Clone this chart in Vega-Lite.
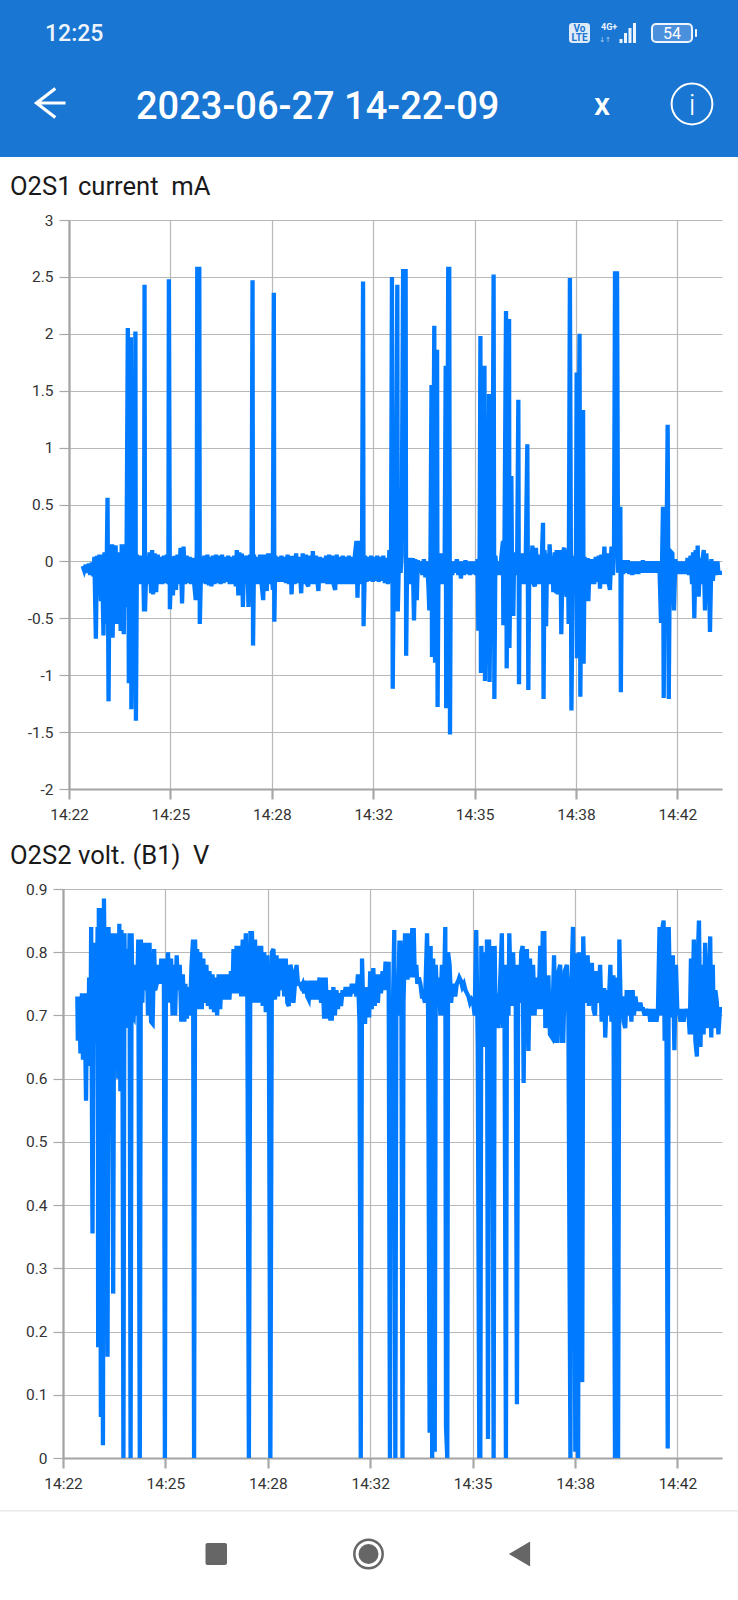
{
"$schema":"https://vega.github.io/schema/vega-lite/v6.json",
"padding":0,
"spacing":18,
"background":"white",
"config":{
"font":"Roboto",
"view":{"stroke":null},
"axis":{"labelFont":"Roboto","labelFontSize":15.5,"labelColor":"#333333","labelOverlap":false,"labelFlush":false,"labelBound":false,"tickSize":10,"tickColor":"#a8a8a8","domainColor":"#a3a3a3","domainWidth":2.2,"gridColor":"#b8b8b8","gridWidth":1.2,"title":null,"zindex":1},
"axisX":{"tickWidth":2.2,"labelPadding":8,"labelExpr":"timeFormat(datetime(2023,5,27,14,22,9+datum.value),'%H:%M')"},
"axisY":{"tickWidth":1.2,"labelPadding":6,"labelExpr":"''+datum.value"},
"title":{"font":"Roboto","fontSize":25.6,"fontWeight":"normal","color":"#1a1a1a","anchor":"start","frame":"bounds","dx":10}
},
"datasets":{
"o2s1":[{"s":27,"v":-0.04},{"s":30,"v":-0.08},{"s":33,"v":-0.03},{"s":36,"v":-0.1},{"s":39,"v":-0.02},{"s":42,"v":-0.12},{"s":45,"v":-0.01},{"s":48,"v":-0.13},{"s":50,"v":0.04},{"s":53,"v":-0.68},{"s":55,"v":0.05},{"s":58,"v":-0.2},{"s":60,"v":0.06},{"s":63,"v":-0.35},{"s":65,"v":0.06},{"s":68,"v":-0.65},{"s":70,"v":0.08},{"s":73,"v":-0.55},{"s":76,"v":0.56},{"s":78,"v":-1.23},{"s":80,"v":0.1},{"s":83,"v":-0.6},{"s":85,"v":0.15},{"s":86,"v":-0.67},{"s":89,"v":0.06},{"s":92,"v":0.14},{"s":94,"v":-0.55},{"s":97,"v":0.08},{"s":100,"v":-0.3},{"s":102,"v":-0.61},{"s":104,"v":0.15},{"s":106,"v":-0.3},{"s":108,"v":-0.64},{"s":110,"v":0.15},{"s":113,"v":-0.4},{"s":116,"v":2.05},{"s":118,"v":-1.07},{"s":120,"v":0.1},{"s":122,"v":1.97},{"s":123,"v":-1.3},{"s":126,"v":-0.1},{"s":129,"v":0.05},{"s":131,"v":2.02},{"s":132,"v":-1.4},{"s":134,"v":0.06},{"s":137,"v":-0.2},{"s":140,"v":0.05},{"s":143,"v":-0.2},{"s":146,"v":0.03},{"s":148,"v":-0.44},{"s":149,"v":2.43},{"s":150,"v":-0.44},{"s":153,"v":0.05},{"s":156,"v":-0.2},{"s":159,"v":0.08},{"s":162,"v":-0.28},{"s":164,"v":0.1},{"s":166,"v":-0.29},{"s":169,"v":0.07},{"s":172,"v":-0.27},{"s":175,"v":0.06},{"s":178,"v":-0.2},{"s":181,"v":0.04},{"s":184,"v":-0.2},{"s":187,"v":0.05},{"s":190,"v":-0.19},{"s":193,"v":0.06},{"s":196,"v":-0.2},{"s":197,"v":2.48},{"s":199,"v":-0.42},{"s":202,"v":0.04},{"s":205,"v":-0.3},{"s":208,"v":0.05},{"s":211,"v":-0.25},{"s":214,"v":0.06},{"s":217,"v":-0.2},{"s":220,"v":0.12},{"s":223,"v":-0.37},{"s":226,"v":0.13},{"s":229,"v":-0.2},{"s":232,"v":0.05},{"s":235,"v":-0.19},{"s":238,"v":0.04},{"s":241,"v":-0.2},{"s":244,"v":0.03},{"s":247,"v":-0.2},{"s":250,"v":-0.34},{"s":252,"v":0.1},{"s":253,"v":2.57},{"s":257,"v":2.57},{"s":258,"v":-0.55},{"s":261,"v":0.04},{"s":264,"v":-0.19},{"s":267,"v":0.05},{"s":270,"v":-0.2},{"s":273,"v":0.06},{"s":276,"v":-0.21},{"s":279,"v":0.04},{"s":281,"v":-0.22},{"s":284,"v":0.05},{"s":287,"v":-0.2},{"s":290,"v":0.06},{"s":293,"v":-0.19},{"s":296,"v":0.05},{"s":299,"v":-0.2},{"s":302,"v":0.06},{"s":305,"v":-0.19},{"s":308,"v":0.04},{"s":311,"v":-0.18},{"s":314,"v":0.05},{"s":317,"v":-0.2},{"s":320,"v":0.04},{"s":323,"v":-0.2},{"s":326,"v":0.05},{"s":329,"v":-0.22},{"s":331,"v":0.1},{"s":334,"v":-0.3},{"s":336,"v":0.08},{"s":339,"v":-0.22},{"s":341,"v":0.07},{"s":343,"v":-0.4},{"s":346,"v":0.05},{"s":349,"v":-0.2},{"s":352,"v":0.05},{"s":354,"v":-0.4},{"s":357,"v":0.06},{"s":360,"v":-0.2},{"s":362,"v":2.47},{"s":363,"v":-0.74},{"s":365,"v":0.06},{"s":368,"v":-0.2},{"s":371,"v":0.04},{"s":374,"v":-0.2},{"s":377,"v":0.06},{"s":380,"v":-0.2},{"s":383,"v":-0.34},{"s":385,"v":0.06},{"s":388,"v":-0.2},{"s":390,"v":-0.26},{"s":393,"v":0.07},{"s":396,"v":-0.2},{"s":399,"v":0.07},{"s":402,"v":-0.25},{"s":404,"v":2.36},{"s":405,"v":-0.53},{"s":407,"v":0.05},{"s":410,"v":-0.18},{"s":413,"v":0.04},{"s":416,"v":-0.18},{"s":419,"v":0.05},{"s":422,"v":-0.18},{"s":425,"v":0.04},{"s":428,"v":-0.19},{"s":431,"v":0.06},{"s":434,"v":-0.2},{"s":437,"v":0.05},{"s":439,"v":-0.29},{"s":442,"v":0.05},{"s":445,"v":-0.2},{"s":448,"v":0.07},{"s":451,"v":-0.19},{"s":454,"v":0.04},{"s":458,"v":-0.28},{"s":461,"v":0.07},{"s":464,"v":-0.2},{"s":467,"v":0.06},{"s":470,"v":-0.2},{"s":472,"v":-0.22},{"s":475,"v":0.05},{"s":478,"v":-0.2},{"s":481,"v":0.09},{"s":484,"v":-0.2},{"s":487,"v":0.05},{"s":490,"v":-0.18},{"s":492,"v":-0.26},{"s":495,"v":0.04},{"s":498,"v":-0.19},{"s":501,"v":0.03},{"s":504,"v":-0.19},{"s":507,"v":0.05},{"s":510,"v":-0.2},{"s":513,"v":0.06},{"s":516,"v":-0.2},{"s":519,"v":0.05},{"s":522,"v":-0.2},{"s":525,"v":-0.25},{"s":528,"v":0.06},{"s":531,"v":-0.2},{"s":534,"v":0.04},{"s":537,"v":-0.2},{"s":540,"v":0.05},{"s":543,"v":-0.2},{"s":546,"v":0.04},{"s":549,"v":-0.2},{"s":552,"v":0.05},{"s":555,"v":-0.2},{"s":558,"v":0.04},{"s":561,"v":-0.2},{"s":564,"v":0.06},{"s":567,"v":0.18},{"s":569,"v":-0.32},{"s":572,"v":0.18},{"s":575,"v":-0.2},{"s":578,"v":0.1},{"s":580,"v":2.46},{"s":581,"v":-0.57},{"s":584,"v":0.05},{"s":587,"v":-0.18},{"s":590,"v":0.04},{"s":593,"v":-0.17},{"s":596,"v":0.05},{"s":599,"v":-0.18},{"s":602,"v":0.04},{"s":605,"v":-0.17},{"s":608,"v":0.05},{"s":611,"v":-0.18},{"s":614,"v":0.04},{"s":617,"v":-0.17},{"s":620,"v":0.05},{"s":623,"v":-0.19},{"s":626,"v":0.03},{"s":629,"v":-0.2},{"s":632,"v":0.1},{"s":635,"v":-0.19},{"s":637,"v":2.5},{"s":638.5,"v":-1.12},{"s":641,"v":0.08},{"s":644,"v":-0.2},{"s":647.6,"v":2.43},{"s":648.5,"v":-0.44},{"s":651,"v":0.06},{"s":654,"v":-0.1},{"s":656,"v":0.05},{"s":659,"v":2.55},{"s":664,"v":2.55},{"s":665,"v":-0.83},{"s":667,"v":0.03},{"s":670,"v":-0.2},{"s":673,"v":0.03},{"s":676,"v":-0.2},{"s":678,"v":0.03},{"s":680.5,"v":-0.52},{"s":683,"v":0.02},{"s":686,"v":-0.34},{"s":688,"v":0.01},{"s":691,"v":-0.1},{"s":694,"v":0},{"s":697,"v":-0.12},{"s":700,"v":0.02},{"s":703,"v":-0.14},{"s":706,"v":0},{"s":709,"v":-0.22},{"s":710.7,"v":-0.43},{"s":713,"v":0.05},{"s":715,"v":1.55},{"s":716,"v":-0.84},{"s":718,"v":0.08},{"s":720.5,"v":2.07},{"s":722,"v":-0.89},{"s":724,"v":0.05},{"s":726,"v":1.86},{"s":727,"v":-1.28},{"s":729,"v":0.05},{"s":732,"v":-0.2},{"s":735,"v":0.07},{"s":738,"v":-0.2},{"s":741,"v":0.05},{"s":743,"v":1.72},{"s":744,"v":-1.29},{"s":746,"v":0.02},{"s":748,"v":2.57},{"s":750,"v":2.57},{"s":751.5,"v":-1.52},{"s":753,"v":0},{"s":756,"v":-0.12},{"s":759,"v":0},{"s":762,"v":-0.1},{"s":765,"v":0.02},{"s":768,"v":-0.12},{"s":771,"v":0},{"s":773,"v":-0.15},{"s":776,"v":0},{"s":779,"v":-0.12},{"s":782,"v":0.01},{"s":785,"v":-0.11},{"s":788,"v":0},{"s":791,"v":-0.12},{"s":794,"v":0},{"s":797,"v":-0.11},{"s":800,"v":0},{"s":803,"v":-0.12},{"s":806,"v":0.02},{"s":807.4,"v":-0.61},{"s":810,"v":0.1},{"s":811.5,"v":1.98},{"s":812.5,"v":-0.98},{"s":815,"v":0.05},{"s":818,"v":-0.3},{"s":819.5,"v":1.72},{"s":820.5,"v":-1.05},{"s":823,"v":0.08},{"s":826,"v":-0.3},{"s":828.5,"v":1.47},{"s":829.5,"v":-1.06},{"s":832,"v":0.05},{"s":835,"v":-0.2},{"s":837.5,"v":2.52},{"s":839,"v":-1.21},{"s":841,"v":0.05},{"s":844,"v":-0.12},{"s":847,"v":0},{"s":850,"v":-0.12},{"s":853,"v":0.05},{"s":856,"v":0.18},{"s":856.7,"v":-0.56},{"s":859,"v":0.2},{"s":862,"v":2.2},{"s":863.3,"v":-0.94},{"s":865,"v":0.05},{"s":868,"v":2.13},{"s":868.7,"v":-0.76},{"s":871,"v":0.1},{"s":872.5,"v":0.75},{"s":874,"v":-0.2},{"s":876.4,"v":-0.48},{"s":878,"v":0.08},{"s":881,"v":-0.12},{"s":884,"v":0.05},{"s":886.3,"v":1.42},{"s":887.6,"v":-1.08},{"s":889,"v":0.05},{"s":892,"v":-0.2},{"s":895,"v":0.07},{"s":898,"v":-0.2},{"s":901,"v":0.06},{"s":904,"v":1.03},{"s":906,"v":-1.13},{"s":908,"v":0.07},{"s":911,"v":-0.2},{"s":914,"v":0.14},{"s":917,"v":-0.2},{"s":919,"v":-0.22},{"s":921,"v":0.12},{"s":924,"v":-0.2},{"s":927,"v":0.06},{"s":930,"v":-0.2},{"s":933,"v":0.08},{"s":935,"v":0.34},{"s":936,"v":-1.21},{"s":938,"v":0.1},{"s":941,"v":-0.57},{"s":943,"v":0.07},{"s":946,"v":-0.2},{"s":948,"v":0.15},{"s":951,"v":-0.2},{"s":953,"v":0.05},{"s":955.3,"v":-0.27},{"s":958,"v":0.08},{"s":961,"v":-0.28},{"s":962,"v":0.1},{"s":964,"v":-0.29},{"s":967,"v":0.1},{"s":970,"v":-0.2},{"s":971,"v":-0.64},{"s":974,"v":0.08},{"s":977,"v":0.12},{"s":979,"v":-0.2},{"s":981.6,"v":-0.31},{"s":984,"v":0.1},{"s":985.5,"v":-0.55},{"s":988,"v":2.49},{"s":991,"v":-1.31},{"s":994,"v":0.05},{"s":997,"v":-0.3},{"s":1000,"v":0.1},{"s":1001.3,"v":1.66},{"s":1002,"v":-0.85},{"s":1004,"v":0.1},{"s":1007,"v":2},{"s":1008.6,"v":-1.19},{"s":1011,"v":0.1},{"s":1014,"v":1.33},{"s":1015,"v":-0.9},{"s":1017,"v":0.04},{"s":1020,"v":-0.2},{"s":1023,"v":0.03},{"s":1024.4,"v":-0.35},{"s":1027,"v":0.02},{"s":1030,"v":-0.2},{"s":1033,"v":0.02},{"s":1036,"v":-0.2},{"s":1039,"v":0.04},{"s":1042,"v":-0.18},{"s":1045,"v":0.05},{"s":1047.4,"v":-0.24},{"s":1050,"v":0.06},{"s":1053,"v":-0.2},{"s":1056,"v":0.13},{"s":1059,"v":-0.2},{"s":1062,"v":0.07},{"s":1065,"v":-0.2},{"s":1067,"v":-0.25},{"s":1070,"v":0.13},{"s":1073,"v":-0.12},{"s":1075,"v":0.1},{"s":1077,"v":2.53},{"s":1081,"v":2.53},{"s":1083,"v":-0.1},{"s":1085,"v":0.1},{"s":1087.5,"v":0.48},{"s":1088.5,"v":-1.15},{"s":1090,"v":0},{"s":1093,"v":-0.11},{"s":1096,"v":0.01},{"s":1099,"v":-0.1},{"s":1102,"v":0.01},{"s":1105,"v":-0.11},{"s":1108,"v":0},{"s":1111,"v":-0.12},{"s":1114,"v":0},{"s":1117,"v":-0.11},{"s":1120,"v":0},{"s":1123,"v":-0.11},{"s":1126,"v":0},{"s":1129,"v":-0.1},{"s":1132,"v":0.01},{"s":1135,"v":-0.1},{"s":1138,"v":0},{"s":1141,"v":-0.1},{"s":1144,"v":0},{"s":1147,"v":-0.1},{"s":1150,"v":0},{"s":1153,"v":-0.1},{"s":1156,"v":0},{"s":1159,"v":-0.1},{"s":1162,"v":0},{"s":1165,"v":-0.1},{"s":1167.7,"v":-0.54},{"s":1170,"v":0.05},{"s":1171.6,"v":0.48},{"s":1173,"v":-1.2},{"s":1175,"v":0.05},{"s":1178,"v":-0.2},{"s":1180.8,"v":1.2},{"s":1183,"v":-1.21},{"s":1185,"v":0.02},{"s":1188,"v":0.08},{"s":1190,"v":0.07},{"s":1193.3,"v":-0.43},{"s":1196,"v":0.02},{"s":1199,"v":-0.11},{"s":1202,"v":0},{"s":1205,"v":-0.11},{"s":1208,"v":0},{"s":1211,"v":-0.11},{"s":1214,"v":0},{"s":1217,"v":-0.11},{"s":1220,"v":0.03},{"s":1223,"v":-0.12},{"s":1226,"v":0.05},{"s":1229,"v":-0.2},{"s":1231,"v":0.08},{"s":1233.4,"v":-0.5},{"s":1236,"v":0.1},{"s":1239,"v":-0.2},{"s":1240,"v":0.14},{"s":1242,"v":-0.31},{"s":1245,"v":0.03},{"s":1248,"v":-0.2},{"s":1250,"v":0.03},{"s":1252,"v":0.1},{"s":1254.4,"v":-0.43},{"s":1257,"v":0.07},{"s":1260,"v":-0.17},{"s":1262,"v":0},{"s":1264.3,"v":-0.62},{"s":1267,"v":0.02},{"s":1270,"v":-0.17},{"s":1273,"v":0},{"s":1276,"v":-0.12},{"s":1279,"v":0},{"s":1281,"v":-0.1},{"s":1283,"v":-0.1},{"s":1288,"v":-0.1}],
"o2s2":[{"s":28,"v":0.73},{"s":29,"v":0.66},{"s":32,"v":0.73},{"s":34,"v":0.64},{"s":37,"v":0.735},{"s":39,"v":0.63},{"s":42,"v":0.735},{"s":45,"v":0.565},{"s":47,"v":0.735},{"s":49,"v":0.62},{"s":51,"v":0.76},{"s":54,"v":0.7},{"s":55,"v":0.84},{"s":57.6,"v":0.355},{"s":60,"v":0.76},{"s":62,"v":0.7},{"s":63,"v":0.815},{"s":65,"v":0.655},{"s":67.6,"v":0.84},{"s":68.7,"v":0.175},{"s":70,"v":0.87},{"s":72,"v":0.72},{"s":74,"v":0.065},{"s":76,"v":0.87},{"s":78,"v":0.02},{"s":80,"v":0.885},{"s":82,"v":0.7},{"s":84,"v":0.84},{"s":87,"v":0.16},{"s":89,"v":0.84},{"s":91,"v":0.655},{"s":94,"v":0.83},{"s":96,"v":0.6},{"s":98,"v":0.26},{"s":100,"v":0.83},{"s":102,"v":0.65},{"s":104,"v":0.83},{"s":106,"v":0.7},{"s":108,"v":0.6},{"s":110,"v":0.845},{"s":112,"v":0.58},{"s":114,"v":0.835},{"s":116,"v":0.7},{"s":118,"v":0},{"s":120,"v":0.83},{"s":122,"v":0.68},{"s":124,"v":0.805},{"s":128,"v":0.7},{"s":130,"v":0.83},{"s":132,"v":0},{"s":134,"v":0.83},{"s":136,"v":0.7},{"s":138,"v":0.697},{"s":141,"v":0.78},{"s":144,"v":0.7},{"s":147,"v":0.82},{"s":150,"v":0},{"s":152,"v":0.82},{"s":155,"v":0.72},{"s":157.4,"v":0.815},{"s":160,"v":0.74},{"s":163,"v":0.815},{"s":166,"v":0.7},{"s":169,"v":0.815},{"s":172,"v":0.69},{"s":175,"v":0.687},{"s":178,"v":0.805},{"s":180,"v":0.74},{"s":183,"v":0.75},{"s":186,"v":0.78},{"s":189,"v":0.75},{"s":192,"v":0.79},{"s":195,"v":0.75},{"s":197,"v":0.79},{"s":199,"v":0},{"s":201,"v":0.79},{"s":203,"v":0.74},{"s":205,"v":0.8},{"s":208,"v":0.72},{"s":211,"v":0.79},{"s":214,"v":0.7},{"s":216,"v":0.78},{"s":219,"v":0.7},{"s":222,"v":0.795},{"s":225,"v":0.74},{"s":228,"v":0.78},{"s":231,"v":0.69},{"s":234,"v":0.765},{"s":237,"v":0.69},{"s":239,"v":0.75},{"s":242,"v":0.695},{"s":245,"v":0.745},{"s":248,"v":0.7},{"s":251,"v":0.78},{"s":254,"v":0.82},{"s":256,"v":0},{"s":258,"v":0.82},{"s":260,"v":0.71},{"s":262,"v":0.805},{"s":265,"v":0.71},{"s":268,"v":0.8},{"s":271,"v":0.71},{"s":274,"v":0.79},{"s":277,"v":0.72},{"s":280,"v":0.78},{"s":283,"v":0.715},{"s":286,"v":0.77},{"s":289,"v":0.71},{"s":292,"v":0.765},{"s":295,"v":0.705},{"s":298,"v":0.76},{"s":301,"v":0.7},{"s":304,"v":0.765},{"s":307,"v":0.71},{"s":310,"v":0.765},{"s":313,"v":0.725},{"s":316,"v":0.765},{"s":319,"v":0.725},{"s":322,"v":0.765},{"s":325,"v":0.725},{"s":328,"v":0.77},{"s":331,"v":0.735},{"s":333,"v":0.805},{"s":336,"v":0.735},{"s":339,"v":0.81},{"s":342,"v":0.735},{"s":345,"v":0.81},{"s":348,"v":0.73},{"s":351,"v":0.82},{"s":354,"v":0.73},{"s":357,"v":0.83},{"s":360,"v":0.73},{"s":363,"v":0},{"s":366,"v":0.83},{"s":369,"v":0.83},{"s":372,"v":0.72},{"s":375,"v":0.82},{"s":378,"v":0.72},{"s":381,"v":0.81},{"s":384,"v":0.72},{"s":387,"v":0.81},{"s":390,"v":0.715},{"s":393,"v":0.8},{"s":396,"v":0.705},{"s":399,"v":0.795},{"s":402,"v":0.71},{"s":405,"v":0},{"s":408,"v":0.8},{"s":411,"v":0.805},{"s":414,"v":0.725},{"s":417,"v":0.795},{"s":420,"v":0.73},{"s":423,"v":0.79},{"s":426,"v":0.74},{"s":429,"v":0.79},{"s":432,"v":0.73},{"s":435,"v":0.79},{"s":438,"v":0.72},{"s":441,"v":0.715},{"s":444,"v":0.78},{"s":447,"v":0.77},{"s":450,"v":0.72},{"s":453,"v":0.75},{"s":456,"v":0.78},{"s":459,"v":0.75},{"s":462,"v":0.75},{"s":465,"v":0.745},{"s":468,"v":0.75},{"s":471,"v":0.735},{"s":474,"v":0.755},{"s":477,"v":0.73},{"s":480,"v":0.725},{"s":483,"v":0.755},{"s":486,"v":0.725},{"s":489,"v":0.755},{"s":492,"v":0.725},{"s":495,"v":0.755},{"s":498,"v":0.725},{"s":501,"v":0.76},{"s":504,"v":0.72},{"s":507,"v":0.76},{"s":510,"v":0.695},{"s":513,"v":0.76},{"s":516,"v":0.695},{"s":519,"v":0.74},{"s":522,"v":0.695},{"s":525,"v":0.695},{"s":528,"v":0.745},{"s":531,"v":0.7},{"s":534,"v":0.74},{"s":537,"v":0.71},{"s":540,"v":0.735},{"s":543,"v":0.715},{"s":546,"v":0.74},{"s":549,"v":0.73},{"s":552,"v":0.745},{"s":555,"v":0.73},{"s":558,"v":0.745},{"s":561,"v":0.73},{"s":564,"v":0.75},{"s":567,"v":0.735},{"s":570,"v":0.75},{"s":573,"v":0.73},{"s":576,"v":0.765},{"s":579,"v":0.69},{"s":581.5,"v":0},{"s":584,"v":0.79},{"s":587,"v":0.69},{"s":590,"v":0.69},{"s":592,"v":0.745},{"s":595,"v":0.7},{"s":598,"v":0.7},{"s":600,"v":0.77},{"s":603,"v":0.71},{"s":606,"v":0.775},{"s":609,"v":0.715},{"s":612,"v":0.765},{"s":615,"v":0.72},{"s":618,"v":0.765},{"s":621,"v":0.735},{"s":624,"v":0.77},{"s":627,"v":0.74},{"s":630,"v":0.785},{"s":633,"v":0.74},{"s":636,"v":0.785},{"s":638.5,"v":0},{"s":641,"v":0.7},{"s":644,"v":0.7},{"s":647,"v":0.835},{"s":649,"v":0},{"s":651,"v":0.72},{"s":654,"v":0.7},{"s":657,"v":0.815},{"s":659,"v":0.815},{"s":661,"v":0.7},{"s":663,"v":0},{"s":665,"v":0.72},{"s":668,"v":0.83},{"s":670,"v":0.76},{"s":673,"v":0.76},{"s":676,"v":0.83},{"s":679,"v":0.76},{"s":682,"v":0.835},{"s":685,"v":0.835},{"s":687,"v":0.76},{"s":690,"v":0.78},{"s":692,"v":0.75},{"s":695,"v":0.76},{"s":698,"v":0.75},{"s":701,"v":0.73},{"s":704,"v":0.73},{"s":707,"v":0.72},{"s":711,"v":0.83},{"s":713,"v":0.71},{"s":716,"v":0.04},{"s":718,"v":0.81},{"s":721,"v":0},{"s":723,"v":0.79},{"s":726,"v":0.01},{"s":728,"v":0.78},{"s":731,"v":0.72},{"s":734,"v":0.76},{"s":737,"v":0.7},{"s":740,"v":0.78},{"s":743,"v":0.7},{"s":746.6,"v":0.84},{"s":748,"v":0.05},{"s":750.5,"v":0},{"s":752,"v":0.8},{"s":755,"v":0.78},{"s":758,"v":0.72},{"s":760,"v":0.74},{"s":763,"v":0.75},{"s":766,"v":0.73},{"s":769,"v":0.75},{"s":772,"v":0.755},{"s":774,"v":0.76},{"s":777,"v":0.755},{"s":780,"v":0.745},{"s":783,"v":0.75},{"s":786,"v":0.74},{"s":789,"v":0.735},{"s":792,"v":0.73},{"s":795,"v":0.72},{"s":798,"v":0.725},{"s":801,"v":0.72},{"s":804,"v":0.7},{"s":807,"v":0.835},{"s":810,"v":0.65},{"s":813,"v":0},{"s":815,"v":0},{"s":817,"v":0.81},{"s":820,"v":0.65},{"s":823,"v":0.8},{"s":826,"v":0.65},{"s":828,"v":0.82},{"s":830,"v":0.03},{"s":832,"v":0.82},{"s":835,"v":0.65},{"s":838,"v":0.81},{"s":841,"v":0},{"s":843,"v":0.81},{"s":845,"v":0.68},{"s":847.6,"v":0.735},{"s":850,"v":0.68},{"s":853,"v":0.735},{"s":857,"v":0.83},{"s":859,"v":0.68},{"s":862,"v":0.78},{"s":865,"v":0},{"s":867,"v":0.78},{"s":870,"v":0.7},{"s":871.6,"v":0.83},{"s":874,"v":0.75},{"s":877,"v":0.715},{"s":879,"v":0.8},{"s":882,"v":0.72},{"s":884,"v":0.78},{"s":886.5,"v":0.085},{"s":889,"v":0.78},{"s":892,"v":0.72},{"s":895,"v":0.8},{"s":897.7,"v":0.81},{"s":899.6,"v":0.593},{"s":902,"v":0.8},{"s":904,"v":0.7},{"s":906,"v":0.805},{"s":909,"v":0.644},{"s":912,"v":0.79},{"s":915,"v":0.7},{"s":918,"v":0.78},{"s":921,"v":0.7},{"s":924,"v":0.76},{"s":927,"v":0.71},{"s":930,"v":0.75},{"s":932,"v":0.81},{"s":934,"v":0.71},{"s":937,"v":0.83},{"s":940,"v":0.83},{"s":942,"v":0.68},{"s":945,"v":0.76},{"s":948,"v":0.76},{"s":951,"v":0.67},{"s":955,"v":0.665},{"s":959,"v":0.795},{"s":962,"v":0.66},{"s":965,"v":0.66},{"s":968,"v":0.77},{"s":971,"v":0.78},{"s":974,"v":0.66},{"s":977,"v":0.66},{"s":980,"v":0.77},{"s":984,"v":0.78},{"s":987,"v":0.7},{"s":991,"v":0},{"s":993,"v":0.75},{"s":996,"v":0.84},{"s":998,"v":0.7},{"s":1000.5,"v":0.01},{"s":1003,"v":0.795},{"s":1005,"v":0.795},{"s":1006,"v":0},{"s":1008,"v":0.8},{"s":1011,"v":0.7},{"s":1014,"v":0.12},{"s":1016,"v":0.825},{"s":1019,"v":0.72},{"s":1022,"v":0.75},{"s":1024.6,"v":0.795},{"s":1027,"v":0.715},{"s":1030,"v":0.78},{"s":1033,"v":0.78},{"s":1036,"v":0.71},{"s":1039,"v":0.7},{"s":1042,"v":0.77},{"s":1045,"v":0.72},{"s":1049,"v":0.78},{"s":1052,"v":0.69},{"s":1055,"v":0.74},{"s":1057,"v":0.74},{"s":1059,"v":0.665},{"s":1062,"v":0.74},{"s":1065,"v":0.7},{"s":1069,"v":0.78},{"s":1071,"v":0.69},{"s":1073,"v":0.76},{"s":1075,"v":0.76},{"s":1078,"v":0},{"s":1081,"v":0.76},{"s":1084,"v":0},{"s":1086.5,"v":0.82},{"s":1089,"v":0.72},{"s":1092,"v":0.73},{"s":1095,"v":0.69},{"s":1098,"v":0.68},{"s":1101,"v":0.74},{"s":1104,"v":0.7},{"s":1107,"v":0.74},{"s":1110,"v":0.69},{"s":1112.5,"v":0.74},{"s":1115,"v":0.7},{"s":1118,"v":0.73},{"s":1121,"v":0.71},{"s":1124,"v":0.71},{"s":1127.5,"v":0.72},{"s":1130,"v":0.71},{"s":1133,"v":0.71},{"s":1136,"v":0.7},{"s":1138,"v":0.71},{"s":1141,"v":0.7},{"s":1144,"v":0.71},{"s":1147,"v":0.69},{"s":1150,"v":0.71},{"s":1153,"v":0.69},{"s":1156,"v":0.71},{"s":1159,"v":0.69},{"s":1162,"v":0.71},{"s":1165,"v":0.84},{"s":1168,"v":0.7},{"s":1171,"v":0.84},{"s":1173,"v":0.85},{"s":1175,"v":0.66},{"s":1178,"v":0.84},{"s":1181,"v":0.015},{"s":1183,"v":0.84},{"s":1186,"v":0.7},{"s":1189,"v":0.7},{"s":1191,"v":0.795},{"s":1194,"v":0.645},{"s":1197,"v":0.78},{"s":1200,"v":0.7},{"s":1203,"v":0.71},{"s":1206,"v":0.69},{"s":1209,"v":0.71},{"s":1212,"v":0.69},{"s":1215,"v":0.71},{"s":1218,"v":0.7},{"s":1221,"v":0.71},{"s":1224,"v":0.67},{"s":1226.4,"v":0.79},{"s":1229,"v":0.67},{"s":1232,"v":0.82},{"s":1235,"v":0.66},{"s":1238,"v":0.635},{"s":1240,"v":0.8},{"s":1242,"v":0.85},{"s":1245,"v":0.65},{"s":1248,"v":0.78},{"s":1251,"v":0.67},{"s":1254,"v":0.815},{"s":1257,"v":0.68},{"s":1260,"v":0.7},{"s":1264,"v":0.825},{"s":1266,"v":0.665},{"s":1269,"v":0.78},{"s":1271,"v":0.68},{"s":1274,"v":0.74},{"s":1277,"v":0.72},{"s":1280,"v":0.67},{"s":1283,"v":0.71},{"s":1287,"v":0.71}]
},
"vconcat":[
{"width":675,"height":157,
"layer":[
{"data":{"values":[{"icon":"appbar"}]},"mark":{"type":"rect","fill":"#1976D2"},"encoding":{"x":{"value":-63},"x2":{"value":675},"y":{"value":0},"y2":{"value":157}}},
{"data":{"values":[{"label":"12:25"}]},"mark":{"type":"text","font":"Roboto","fontSize":23,"fontWeight":500,"color":"#eef4fb","align":"left","baseline":"alphabetic"},"encoding":{"x":{"value":-18},"y":{"value":41},"text":{"field":"label"}}},
{"data":{"values":[{"label":"2023-06-27 14-22-09"}]},"mark":{"type":"text","font":"Roboto","fontSize":38,"fontWeight":500,"color":"white","align":"left","baseline":"alphabetic"},"encoding":{"x":{"value":73},"y":{"value":119},"text":{"field":"label"}}},
{"data":{"values":[{"label":"x"}]},"mark":{"type":"text","font":"Roboto","fontSize":32,"fontWeight":500,"color":"white","align":"center","baseline":"alphabetic"},"encoding":{"x":{"value":539},"y":{"value":115},"text":{"field":"label"}}},
{"data":{"values":[{"label":"i"}]},"mark":{"type":"text","font":"Roboto","fontSize":30,"fontWeight":300,"color":"white","align":"center","baseline":"alphabetic"},"encoding":{"x":{"value":629},"y":{"value":115},"text":{"field":"label"}}},
{"data":{"values":[{"icon":"info"}]},"mark":{"type":"point","shape":"circle","size":1662,"stroke":"white","strokeWidth":2,"filled":false,"opacity":1},"encoding":{"x":{"value":629},"y":{"value":104}}},
{"data":{"values":[{"icon":"back"}]},"mark":{"type":"point","shape":"M1,0L-1,0M0.3,-1L-1,0L0.3,1","size":841,"stroke":"white","strokeWidth":3.2,"filled":false,"opacity":1},"encoding":{"x":{"value":-12},"y":{"value":103}}},
{"data":{"values":[{"icon":"volte"}]},"mark":{"type":"rect","fill":"#dfeaf8","cornerRadius":3},"encoding":{"x":{"value":506},"x2":{"value":527},"y":{"value":23},"y2":{"value":43}}},
{"data":{"values":[{"label":"Vo"}]},"mark":{"type":"text","font":"Roboto","fontSize":10,"fontWeight":700,"color":"#1976D2","align":"center","baseline":"alphabetic"},"encoding":{"x":{"value":516.5},"y":{"value":32},"text":{"field":"label"}}},
{"data":{"values":[{"label":"LTE"}]},"mark":{"type":"text","font":"Roboto","fontSize":10,"fontWeight":700,"color":"#1976D2","align":"center","baseline":"alphabetic"},"encoding":{"x":{"value":516.5},"y":{"value":41},"text":{"field":"label"}}},
{"data":{"values":[{"label":"4G+"}]},"mark":{"type":"text","font":"Roboto","fontSize":9,"fontWeight":700,"color":"#eef4fb","align":"left","baseline":"alphabetic"},"encoding":{"x":{"value":538},"y":{"value":30},"text":{"field":"label"}}},
{"data":{"values":[{"label":"↓↑"}]},"mark":{"type":"text","font":"DejaVu Sans","fontSize":7,"color":"#bcd6f2","align":"center","baseline":"alphabetic"},"encoding":{"x":{"value":542},"y":{"value":42},"text":{"field":"label"}}},
{"data":{"values":[{"icon":"signal"}]},"mark":{"type":"point","shape":"M-0.75,1h0.3v-0.4h-0.3zM-0.3,1h0.3v-1h-0.3zM0.15,1h0.3v-1.5h-0.3zM0.6,1h0.3v-2h-0.3z","size":400,"fill":"#eef4fb","filled":true,"opacity":1},"encoding":{"x":{"value":564},"y":{"value":33}}},
{"data":{"values":[{"icon":"battery"}]},"mark":{"type":"rect","fill":"#4b90dc","stroke":"#eef4fb","strokeWidth":2,"cornerRadius":4},"encoding":{"x":{"value":589},"x2":{"value":629},"y":{"value":24},"y2":{"value":42}}},
{"data":{"values":[{"icon":"nub"}]},"mark":{"type":"rect","fill":"#eef4fb","cornerRadius":1},"encoding":{"x":{"value":632},"x2":{"value":634},"y":{"value":29},"y2":{"value":37}}},
{"data":{"values":[{"label":"54"}]},"mark":{"type":"text","font":"Roboto","fontSize":16,"color":"white","align":"center","baseline":"alphabetic"},"encoding":{"x":{"value":609},"y":{"value":39},"text":{"field":"label"}}}
]},
{"width":659,"height":569,
"title":{"text":"O2S1 current\u00a0\u00a0mA","offset":12.4},
"data":{"name":"o2s1"},
"mark":{"type":"line","color":"#007AFF","strokeWidth":4.3,"strokeJoin":"miter","strokeCap":"butt","clip":true},
"encoding":{
"x":{"field":"s","type":"quantitative","scale":{"domain":[0,1288],"range":[6,659],"nice":false,"zero":false},"axis":{"values":[0,200,400,600,800,1000,1200],"minExtent":37,"maxExtent":37}},
"y":{"field":"v","type":"quantitative","scale":{"domain":[-2,3],"nice":false},"axis":{"values":[-2,-1.5,-1,-0.5,0,0.5,1,1.5,2,2.5,3],"offset":-6,"minExtent":69,"maxExtent":69}},
"order":{"field":"s"}
}},
{"width":659,"height":569,
"title":{"text":"O2S2 volt. (B1)\u00a0\u00a0V","offset":12.4},
"data":{"name":"o2s2"},
"mark":{"type":"line","color":"#007AFF","strokeWidth":4.3,"strokeJoin":"miter","strokeCap":"butt","clip":true},
"encoding":{
"x":{"field":"s","type":"quantitative","scale":{"domain":[0,1287],"nice":false,"zero":false},"axis":{"values":[0,200,400,600,800,1000,1200],"minExtent":34,"maxExtent":34}},
"y":{"field":"v","type":"quantitative","scale":{"domain":[0,0.9],"nice":false},"axis":{"values":[0,0.1,0.2,0.3,0.4,0.5,0.6,0.7,0.8,0.9],"minExtent":63,"maxExtent":63}},
"order":{"field":"s"}
}},
{"width":675,"height":89,
"layer":[
{"data":{"values":[{"icon":"separator"}]},"mark":{"type":"rect","fill":"#e8e8e8"},"encoding":{"x":{"value":-63},"x2":{"value":675},"y":{"value":0},"y2":{"value":1.5}}},
{"data":{"values":[{"icon":"stop"}]},"mark":{"type":"rect","fill":"#666666","cornerRadius":2},"encoding":{"x":{"value":142.5},"x2":{"value":164},"y":{"value":33},"y2":{"value":55}}},
{"data":{"values":[{"icon":"ring"}]},"mark":{"type":"point","shape":"circle","size":804,"stroke":"#666666","strokeWidth":2.5,"filled":false,"opacity":1},"encoding":{"x":{"value":305.5},"y":{"value":44}}},
{"data":{"values":[{"icon":"home"}]},"mark":{"type":"point","shape":"circle","size":400,"fill":"#666666","filled":true,"opacity":1},"encoding":{"x":{"value":305.5},"y":{"value":44}}},
{"data":{"values":[{"icon":"back"}]},"mark":{"type":"point","shape":"M0.85,-1L0.85,1L-0.85,0Z","size":625,"fill":"#666666","filled":true,"opacity":1},"encoding":{"x":{"value":456.5},"y":{"value":44}}}
]}
]
}
